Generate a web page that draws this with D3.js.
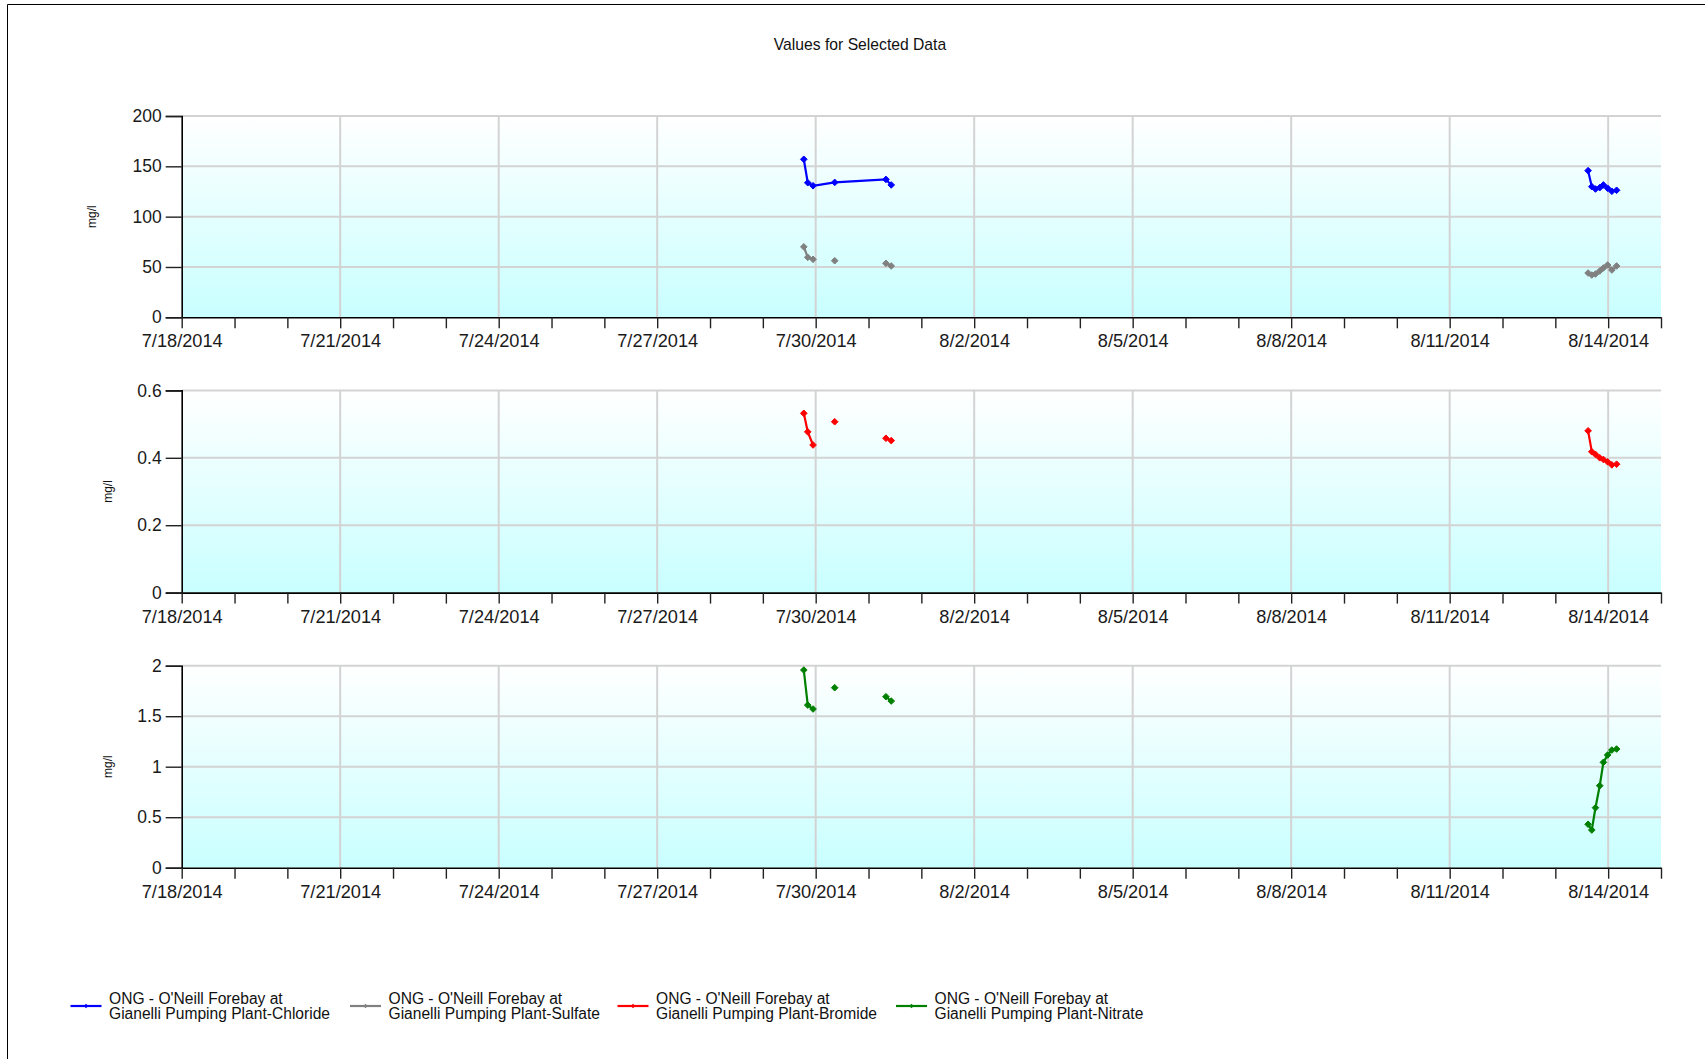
<!DOCTYPE html>
<html><head><meta charset="utf-8">
<script src="https://cdn.jsdelivr.net/npm/d3@7"></script>
<style>
html,body{margin:0;padding:0;background:#fff;}
svg{display:block;font-family:"Liberation Sans",Arial,sans-serif;}
</style></head>
<body>
<script>
// ---- data ----
const title = "Values for Selected Data";
const yLabel = "mg/l";
const sampleDates = [
  "2014-07-29T18:36","2014-07-29T20:24","2014-07-29T22:48","2014-07-30T08:38",
  "2014-07-31T07:55","2014-07-31T10:19",
  "2014-08-13T14:53","2014-08-13T16:34","2014-08-13T18:14","2014-08-13T20:10",
  "2014-08-13T21:50","2014-08-13T23:46","2014-08-14T01:41","2014-08-14T03:50"
];
const chloride = [157,133.7,130.7,134,137,131.5, 145.7,129.8,127.5,128.8,131.5,128.2,125.2,126.2];
const sulfate  = [70,59.6,57.6,56.2,53.6,51, 44,42,43,46,49,52,47,51];
const bromide  = [0.532,0.477,0.438,0.507,0.458,0.451, 0.48,0.418,0.41,0.40,0.395,0.388,0.379,0.381];
const nitrate  = [1.957,1.61,1.571,1.782,1.693,1.65, 0.43,0.373,0.594,0.812,1.043,1.116,1.165,1.175];
const chlorideBreaks = [5];
const otherBreaks = [2,3,5];
const seriesNames = ["Chloride","Sulfate","Bromide","Nitrate"];
const seriesColors = ["#0000ff","#808080","#ff0000","#008000"];
const legendPrefix = "ONG - O'Neill Forebay at";
const legendSuffix = "Gianelli Pumping Plant-";
const xStart = "2014-07-18", xEnd = "2014-08-15";
const yTicks1 = [0,50,100,150,200];
const yTicks2 = [0,0.2,0.4,0.6];
const yTicks3 = [0,0.5,1,1.5,2];

// ---- layout ----
const W = 1705, H = 1059;
const svg = d3.select("body").append("svg").attr("width",W).attr("height",H);
const parse = d3.timeParse("%Y-%m-%dT%H:%M");
const pday = d3.timeParse("%Y-%m-%d");
const dates = sampleDates.map(parse);

// outer frame
svg.append("path").attr("d","M7.5,1059 V4.5 H1705").attr("fill","none").attr("stroke","#000").attr("stroke-width",1);

svg.append("text").attr("x",860).attr("y",50).attr("text-anchor","middle")
  .attr("font-size",15.7).attr("fill","#111").text(title);

const grad = svg.append("defs").append("linearGradient").attr("id","bg")
  .attr("x1",0).attr("y1",0).attr("x2",0).attr("y2",1);
grad.append("stop").attr("offset","0%").attr("stop-color","#ffffff");
grad.append("stop").attr("offset","100%").attr("stop-color","#c9ffff");

const x = d3.scaleTime().domain([pday(xStart), pday(xEnd)]).range([181.7, 1661]);
const fmt = d => `${d.getMonth()+1}/${d.getDate()}/${d.getFullYear()}`;
const labelDays = d3.timeDay.range(pday(xStart), d3.timeDay.offset(pday(xEnd),0), 3);

const panels = [
  {top:116, bottom:317.3, max:200, ticks:yTicks1, series:[[sulfate,1,otherBreaks],[chloride,0,chlorideBreaks]], labelX:92, fmtY:d3.format("d")},
  {top:390.4, bottom:592.6, max:0.6, ticks:yTicks2, series:[[bromide,2,otherBreaks]], labelX:108, fmtY:d=>d===0?"0":d3.format(".1f")(d)},
  {top:665.7, bottom:867.7, max:2, ticks:yTicks3, series:[[nitrate,3,otherBreaks]], labelX:108, fmtY:d=>String(d)}
];

panels.forEach(p => {
  const y = d3.scaleLinear().domain([0,p.max]).range([p.bottom,p.top]);
  const g = svg.append("g");
  g.append("rect").attr("x",x.range()[0]).attr("y",p.top).attr("width",x.range()[1]-x.range()[0])
    .attr("height",p.bottom-p.top).attr("fill","url(#bg)");
  // grid
  g.selectAll(".hg").data(p.ticks.filter(t=>t>0)).join("line")
    .attr("x1",x.range()[0]).attr("x2",x.range()[1]).attr("y1",d=>y(d)).attr("y2",d=>y(d))
    .attr("stroke","#d3d3d3").attr("stroke-width",2);
  g.selectAll(".vg").data(labelDays.slice(1)).join("line")
    .attr("x1",d=>x(d)).attr("x2",d=>x(d)).attr("y1",p.top).attr("y2",p.bottom)
    .attr("stroke","#d3d3d3").attr("stroke-width",2);
  // y axis
  const ya = g.append("g").attr("transform",`translate(${x.range()[0]},0)`)
    .call(d3.axisLeft(y).tickValues(p.ticks).tickFormat(p.fmtY).tickSize(16).tickPadding(4));
  ya.select(".domain").attr("stroke","#000").attr("stroke-width",1.6);
  ya.selectAll(".tick line").attr("stroke","#222").attr("stroke-width",1.4);
  ya.selectAll("text").attr("font-size",17.5).attr("fill","#1a1a1a").attr("font-family","Liberation Sans, Arial, sans-serif");
  // x axis (daily ticks)
  const xa = g.append("g").attr("transform",`translate(0,${p.bottom})`)
    .call(d3.axisBottom(x).ticks(d3.timeDay.every(1)).tickSize(11).tickSizeOuter(0)
      .tickFormat(d => labelDays.some(l=>+l===+d) ? fmt(d) : ""));
  xa.select(".domain").attr("stroke","#000").attr("stroke-width",1.6);
  xa.selectAll(".tick line").attr("stroke","#222").attr("stroke-width",1.4);
  xa.selectAll("text").attr("font-size",18.2).attr("fill","#1a1a1a").attr("dy","0.88em").attr("font-family","Liberation Sans, Arial, sans-serif");
  // y label
  g.append("text").attr("transform",`translate(${p.labelX},${(p.top+p.bottom)/2}) rotate(-90)`)
    .attr("text-anchor","middle").attr("dy","0.35em").attr("font-size",12).attr("fill","#111").text(yLabel);
  // series
  p.series.forEach(([vals,ci,breaks]) => {
    const color = seriesColors[ci];
    const pts = vals.map((v,i)=>({d:dates[i],v,i}));
    const segs = [];
    let cur = [];
    pts.forEach(pt => { cur.push(pt); if (breaks.includes(pt.i)) { segs.push(cur); cur = []; } });
    if (cur.length) segs.push(cur);
    const line = d3.line().x(d=>x(d.d)).y(d=>y(d.v));
    segs.filter(s=>s.length>1).forEach(s => {
      g.append("path").attr("d",line(s)).attr("fill","none").attr("stroke",color).attr("stroke-width",2.2);
    });
    g.selectAll(null).data(pts).join("path")
      .attr("transform",d=>`translate(${x(d.d)},${y(d.v)})`)
      .attr("d",d3.symbol(d3.symbolDiamond2,28)()).attr("fill",color).attr("stroke",color).attr("stroke-width",1);
  });
});

// legend
const legendX = [70.5, 350, 617.5, 896];
seriesNames.forEach((n,i) => {
  const lg = svg.append("g").attr("transform",`translate(${legendX[i]},1006)`);
  lg.append("line").attr("x1",0).attr("x2",31).attr("y1",0).attr("y2",0).attr("stroke",seriesColors[i]).attr("stroke-width",2.2);
  lg.append("path").attr("transform","translate(15.5,0)").attr("d",d3.symbol(d3.symbolDiamond2,12)()).attr("fill",seriesColors[i]);
  const t = lg.append("text").attr("font-size",15.6).attr("fill","#111");
  t.append("tspan").attr("x",38.5).attr("y",-2.5).text(legendPrefix);
  t.append("tspan").attr("x",38.5).attr("y",13).text(legendSuffix + n);
});
</script>
</body></html>
